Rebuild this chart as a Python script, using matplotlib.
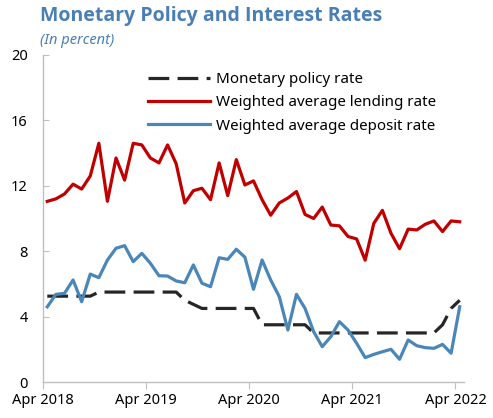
import matplotlib
matplotlib.use("Agg")
import matplotlib.pyplot as plt
import numpy as np

# Monthly data, Apr 2018 - Apr 2022 (percent)
months = [f"{m} {y}" for y in range(2018, 2023) for m in
          ["Jan", "Feb", "Mar", "Apr", "May", "Jun", "Jul", "Aug", "Sep", "Oct", "Nov", "Dec"]][3:52]

policy_rate = [5.25] * 6 + [5.5] * 10 + [5.0, 4.75] + [4.5] * 7 + [3.5] * 6 + [3.0] * 15 + [3.5, 4.5, 5.0]

lending_rate = [11.05, 11.2, 11.5, 12.1, 11.8, 12.6, 14.6, 11.05, 13.7, 12.35,
                14.6, 14.5, 13.7, 13.4, 14.5, 13.35, 10.95, 11.7, 11.85, 11.15,
                13.4, 11.4, 13.6, 12.05, 12.3, 11.15, 10.2, 10.95, 11.25, 11.65,
                10.25, 10.0, 10.7, 9.6, 9.55, 8.9, 8.75, 7.45, 9.7, 10.5,
                9.1, 8.15, 9.35, 9.3, 9.65, 9.85, 9.2, 9.85, 9.8]

deposit_rate = [4.6, 5.36, 5.42, 6.24, 4.91, 6.6, 6.38, 7.46, 8.18, 8.34,
                7.36, 7.87, 7.26, 6.5, 6.48, 6.18, 6.07, 7.16, 6.04, 5.83,
                7.6, 7.5, 8.12, 7.63, 5.67, 7.46, 6.24, 5.22, 3.18, 5.36,
                4.5, 3.08, 2.16, 2.77, 3.69, 3.18, 2.37, 1.49, 1.69, 1.85,
                2.0, 1.39, 2.57, 2.22, 2.1, 2.06, 2.3, 1.76, 4.6]

tick_labels = ["Apr 2018", "Apr 2019", "Apr 2020", "Apr 2021", "Apr 2022"]
yticks = [0, 4, 8, 12, 16, 20]

title_color = "#4A7FB5"
red = "#C00000"
blue = "#4A86B8"
black = "#262626"
axis_color = "#BFBFBF"

plt.rcParams["font.family"] = ["Noto Sans", "DejaVu Sans"]

fig = plt.figure(figsize=(4.93, 4.18), dpi=100)
ax = fig.add_axes([43 / 493, 1 - 382 / 418, (464 - 43) / 493, (382 - 55) / 418])

x = np.arange(len(months))
ax.plot(x, policy_rate, color=black, lw=2.3, linestyle=(0, (6.5, 2.6)),
        label="Monetary policy rate")
ax.plot(x, lending_rate, color=red, lw=2.3, label="Weighted average lending rate")
ax.plot(x, deposit_rate, color=blue, lw=2.3, label="Weighted average deposit rate")

ax.set_xlim(-0.5, len(months) - 0.5)
ax.set_ylim(0, 20)
ax.set_xticks([-0.5 + 12 * k for k in range(len(tick_labels))])
ax.set_xticklabels(tick_labels, fontsize=10.5)
ax.set_yticks(yticks)
ax.set_yticklabels([str(v) for v in yticks], fontsize=10.5)

for side in ["top", "right"]:
    ax.spines[side].set_visible(False)
for side in ["left", "bottom"]:
    ax.spines[side].set_color(axis_color)
    ax.spines[side].set_linewidth(1.0)
ax.tick_params(axis="y", direction="in", length=4, color=axis_color, pad=11)
ax.tick_params(axis="x", direction="out", length=5, color=axis_color, pad=3)

leg = ax.legend(loc="upper left", bbox_to_anchor=(148 / 493, 1 - 72 / 418),
                bbox_transform=fig.transFigure, frameon=False, fontsize=10.9,
                handlelength=4.1, handletextpad=0.4, labelspacing=0.55,
                borderpad=0, borderaxespad=0)

fig.text(40 / 493, 1 - 16 / 418, "Monetary Policy and Interest Rates",
         fontsize=14, fontweight="bold", color=title_color, va="center", ha="left",
         family=["Open Sans", "Lato", "DejaVu Sans"])
fig.text(40 / 493, 1 - 40 / 418, "(In percent)", fontsize=10.5, style="italic",
         color=title_color, va="center", ha="left")

fig.savefig("out.png", dpi=100)
